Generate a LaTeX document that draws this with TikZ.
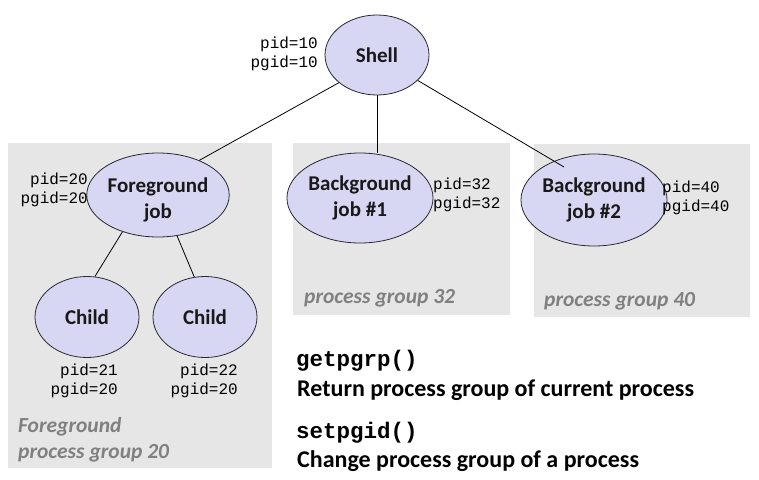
\documentclass[tikz,border=0pt]{standalone}
\usepackage{fontspec}
\setmainfont{Carlito}
\newfontfamily\codefont{Liberation Mono}
\usetikzlibrary{shapes.geometric}
\definecolor{procfill}{RGB}{215,215,243}
\definecolor{groupfill}{RGB}{230,230,230}
\definecolor{grouptext}{RGB}{128,128,128}
\definecolor{procedge}{RGB}{40,40,50}
\begin{document}
\begin{tikzpicture}[x=1pt,y=-1pt,
  proc/.style={ellipse,draw=procedge,line width=0.8pt,fill=procfill,inner sep=0pt,
    align=center,font=\fontsize{21}{26}\selectfont\bfseries,text=black!90},
  idlabel/.style={inner sep=0pt,font=\codefont\fontsize{16}{19}\selectfont},
  grouplabel/.style={inner sep=0pt,anchor=west,align=left,text=grouptext,
    font=\fontsize{21.5}{26}\selectfont\bfseries\itshape},
  groupbox/.style={fill=groupfill,draw=none},
  codeline/.style={inner sep=0pt,anchor=west,font=\codefont\fontsize{22.5}{24}\selectfont\bfseries},
  descline/.style={inner sep=0pt,anchor=west,font=\fontsize{24}{26}\selectfont\bfseries},
  link/.style={draw=black,line width=0.8pt}]
\path[use as bounding box] (0,0) rectangle (759,479);

% process group backgrounds
\path[groupbox] (8,143) rectangle (272,468);
\path[groupbox] (293,143) rectangle (510,315);
\path[groupbox] (534,144) rectangle (750,317);

% processes (the strut pushes the foreground label a little lower)
\node[proc,minimum width=104pt,minimum height=80pt] (shell) at (377,55) {Shell};
\node[proc,minimum width=130pt,minimum height=84pt] (fg) at (158,195) {\rule{0pt}{24pt}Foreground\\job};
\node[proc,minimum width=132pt,minimum height=90pt] (bg1) at (360,198) {Background\\job \#1};
\node[proc,minimum width=120pt,minimum height=92pt] (bg2) at (594,200) {Background\\job \#2};
\node[proc,minimum width=104pt,minimum height=81pt] (c1) at (87,317) {Child};
\node[proc,minimum width=104pt,minimum height=81pt] (c2) at (205,317) {Child};

% parent/child links
\coordinate (bg2tip) at (564,167);
\draw[link] (shell.216) -- (fg.40);
\draw[link] (shell.south) -- (shell.south |- bg1.north);
\draw[link] (shell.328) -- (bg2tip);
\draw[link] (fg.226) -- (c1.79);
\draw[link] (fg.295) -- (c2.105);

% pid / pgid labels
\node[idlabel,anchor=east,align=right] (id10) at (318,54) {pid=10\\pgid=10};
\node[idlabel,anchor=east,align=right] (id20) at (88,190) {pid=20\\pgid=20};
\node[idlabel,anchor=west,align=left] (id32) at (433,195) {pid=32\\pgid=32};
\node[idlabel,anchor=west,align=left] (id40) at (662,198) {pid=40\\pgid=40};
\node[idlabel,anchor=east,align=right] (id21) at (118,381) {pid=21\\pgid=20};
\node[idlabel,anchor=east,align=right] (id22) at (238,381) {pid=22\\pgid=20};

% group captions
\node[grouplabel] (g20) at (18,440) {Foreground\\process group 20};
\node[grouplabel] (g32) at (304,298) {process group 32};
\node[grouplabel] (g40) at (544,301) {process group 40};

% system calls
\node[codeline] (getpgrp) at (296,361) {getpgrp()};
\node[descline] (getdesc) at (297,390) {Return process group of current process};
\node[codeline] (setpgid) at (296,433) {setpgid()};
\node[descline] (setdesc) at (297,461) {Change process group of a process};
\end{tikzpicture}
\end{document}
